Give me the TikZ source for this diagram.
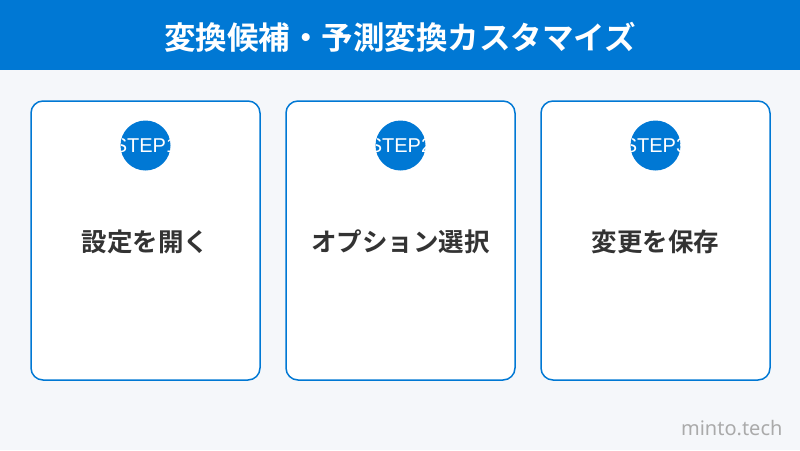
\documentclass[tikz,border=0pt]{standalone}
\usepackage{fontspec}
\newfontfamily\cjk{Noto Sans CJK JP}
\newfontfamily\cjkb{Noto Sans CJK JP Bold}
\newfontfamily\latn{Noto Sans}
\newfontfamily\lsans{Liberation Sans}
\definecolor{hblue}{HTML}{0078D4}
\definecolor{bg}{HTML}{F5F7FA}
\definecolor{txt}{HTML}{333333}
\definecolor{mark}{HTML}{AAAAAA}
\tikzset{
  card/.style={draw=hblue, line width=1.5pt, fill=white, rounded corners=12pt},
  steptxt/.style={text=white, font=\lsans\fontsize{20}{20}\selectfont},
  cardtxt/.style={text=txt, font=\cjkb\fontsize{25.5}{25.5}\selectfont},
}
\begin{document}
\begin{tikzpicture}[x=1pt,y=-1pt]
\useasboundingbox (0,0) rectangle (800,450);
\fill[bg] (0,0) rectangle (800,450);
\fill[hblue] (0,0) rectangle (800,70);
\node[text=white, font=\cjkb\fontsize{31.5}{31.5}\selectfont] (title) at (400,37) {変換候補・予測変換カスタマイズ};
\foreach \i/\x/\t in {1/145.5/設定を開く, 2/400.5/オプション選択, 3/655.5/変更を保存}{
  \draw[card] (\x-114.5,101) rectangle (\x+114.5,380);
  \node[circle, fill=hblue, minimum size=50pt, inner sep=0pt] (c\i) at (\x,145.5) {};
  \begin{scope}
    \clip (\x,145.5) circle (25pt);
    \node[steptxt] (s\i) at (\x,145.5) {STEP\i};
  \end{scope}
  \node[cardtxt] (t\i) at (\x,241.5) {\t};
}
\node[anchor=east, text=mark, font=\latn\fontsize{20}{20}\selectfont] (m) at (786,428) {minto.tech};
\end{tikzpicture}
\end{document}
